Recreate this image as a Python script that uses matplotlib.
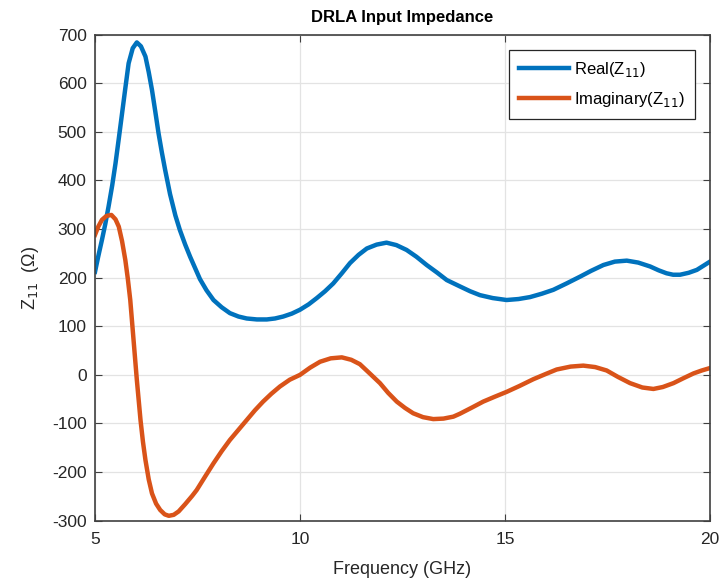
import numpy as np
import matplotlib
matplotlib.use('Agg')
import matplotlib.pyplot as plt

# Real part of Z11 vs frequency (GHz, ohm)
freq_re = [5.0, 5.08, 5.17, 5.25, 5.33, 5.42, 5.5, 5.58, 5.66, 5.74, 5.82, 5.92,
           6.02, 6.12, 6.23, 6.31, 6.39, 6.47, 6.55, 6.63, 6.71, 6.83, 6.96,
           7.07, 7.2, 7.32, 7.44, 7.56, 7.72, 7.89, 8.09, 8.29, 8.5, 8.7, 8.95,
           9.19, 9.39, 9.59, 9.8, 10.0, 10.21, 10.41, 10.61, 10.81, 11.02,
           11.22, 11.43, 11.63, 11.87, 12.11, 12.35, 12.6, 12.84, 13.09, 13.35,
           13.58, 13.9, 14.15, 14.39, 14.7, 15.04, 15.33, 15.61, 15.9, 16.18,
           16.5, 16.83, 17.1, 17.4, 17.68, 17.97, 18.25, 18.54, 18.75, 18.94,
           19.1, 19.27, 19.48, 19.68, 19.85, 20.0]
z11_real = [212, 244, 278, 310, 346, 390, 435, 486, 538, 590, 641, 672,
            684, 676, 655, 623, 586, 542, 497, 458, 422, 372, 328,
            298, 268, 243, 220, 197, 174, 154, 139, 127, 120, 116, 114,
            114, 116, 120, 126, 134, 145, 158, 172, 188, 209,
            230, 247, 260, 268, 272, 267, 257, 243, 226, 210,
            195, 182, 172, 164, 158, 154, 156, 160, 167, 175,
            188, 202, 214, 226, 233, 235, 231, 223, 215, 209,
            206, 206, 210, 216, 225, 233]

# Imaginary part of Z11
freq_im = [5.0, 5.08, 5.17, 5.28, 5.4, 5.5, 5.58, 5.66, 5.74, 5.8, 5.86, 5.94,
           6.02, 6.11, 6.17, 6.23, 6.31, 6.39, 6.49, 6.59, 6.7, 6.8, 6.92,
           7.04, 7.2, 7.37, 7.48, 7.68, 7.89, 8.09, 8.29, 8.5, 8.7, 8.9, 9.1,
           9.3, 9.51, 9.75, 10.0, 10.25, 10.49, 10.75, 11.02, 11.25, 11.46,
           11.7, 11.95, 12.15, 12.36, 12.56, 12.76, 13.0, 13.25, 13.5, 13.74,
           13.9, 14.2, 14.47, 14.75, 15.04, 15.35, 15.69, 16.0, 16.26, 16.6,
           16.91, 17.2, 17.48, 17.75, 18.05, 18.35, 18.62, 18.85, 19.11, 19.35,
           19.6, 19.8, 20.0]
z11_imag = [288, 305, 319, 327, 329, 320, 305, 275, 236, 198, 154, 72,
            -10, -93, -138, -175, -215, -244, -265, -278, -287, -290, -288,
            -281, -266, -249, -237, -210, -182, -157, -134, -113, -93, -73, -55,
            -39, -24, -10, 0, 15, 27, 34, 36, 31, 22,
            3, -17, -37, -55, -68, -79, -87, -91, -90, -86,
            -80, -67, -55, -45, -35, -23, -9, 2, 11, 17,
            19, 16, 9, -4, -17, -26, -29, -25, -17, -7,
            3, 9, 14]

plt.rcParams['font.family'] = ['Liberation Sans', 'DejaVu Sans']
plt.rcParams['axes.unicode_minus'] = False

fig = plt.figure(figsize=(7.23, 5.87), dpi=100)
ax = fig.add_axes([0.1314, 0.113, 0.8506, 0.828])

ax.plot(freq_re, z11_real, color='#0072BD', lw=3.2, label='Real(Z$_{11}$)',
        solid_joinstyle='round')
ax.plot(freq_im, z11_imag, color='#D95319', lw=3.2, label='Imaginary(Z$_{11}$)',
        solid_joinstyle='round')

ax.set_xlim(5, 20)
ax.set_ylim(-300, 700)
ax.set_xticks([5, 10, 15, 20])
ax.set_yticks(np.arange(-300, 701, 100))
ax.grid(True, color='#e3e3e3', lw=0.9)
ax.set_axisbelow(True)
ax.tick_params(direction='in', length=5, top=True, right=True,
               labelsize=12.5, colors='#404040', labelcolor='#262626', pad=6)
ax.tick_params(axis='x', pad=8)
for sp in ax.spines.values():
    sp.set_color('#404040')
    sp.set_linewidth(1.2)

ax.set_title('DRLA Input Impedance', fontsize=12, fontweight='bold', pad=9)
ax.set_xlabel('Frequency (GHz)', fontsize=13, color='#262626', labelpad=10)
ax.set_ylabel('Z$_{11}$  (Ω)', fontsize=13, color='#262626', labelpad=8)

leg = ax.legend(loc='upper right', fontsize=12, fancybox=False, framealpha=1,
                edgecolor='#262626', handlelength=3.0, handletextpad=0.3,
                labelspacing=0.7, borderpad=0.6, borderaxespad=0.9)
leg.get_frame().set_linewidth(0.9)

fig.savefig('out.png', dpi=100)
